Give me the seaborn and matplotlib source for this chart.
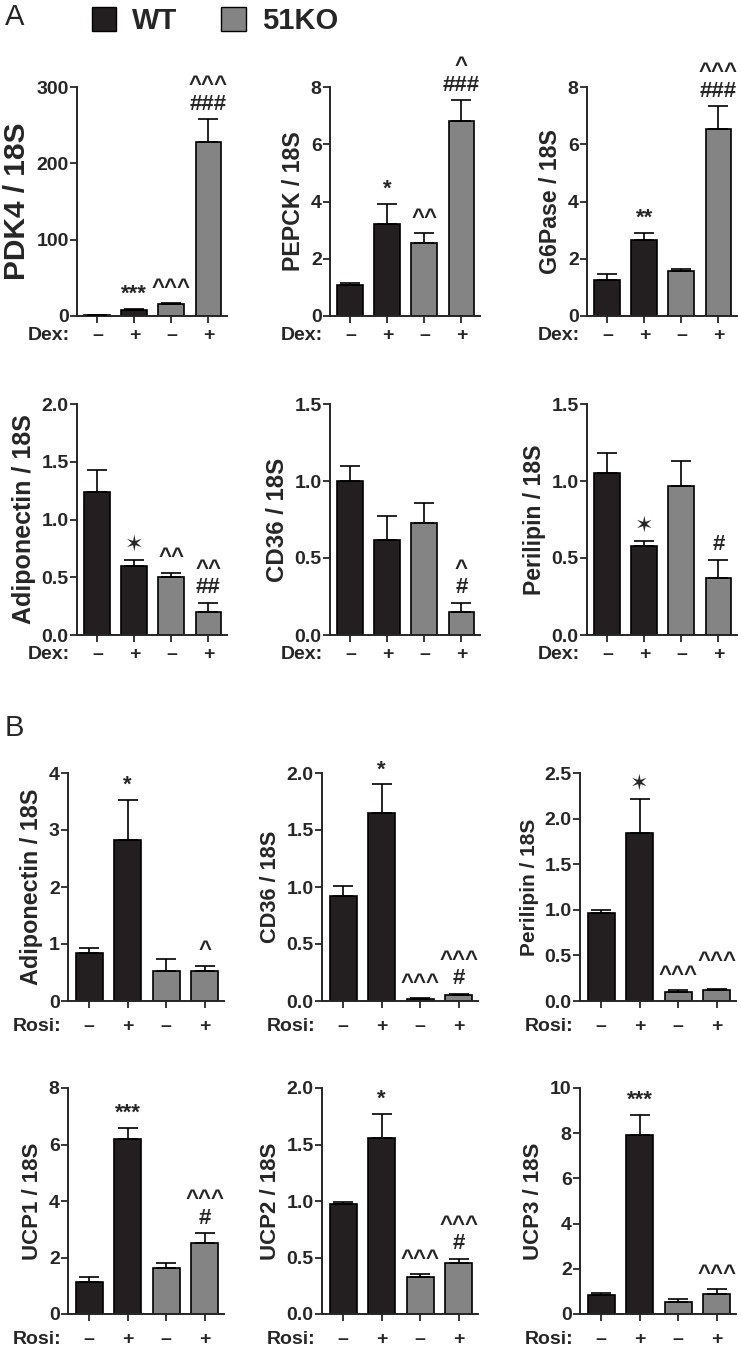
import numpy as np
import pandas as pd
import matplotlib
matplotlib.use('Agg')
import matplotlib.pyplot as plt
from matplotlib.patches import Patch
import seaborn as sns

# bar groups, same order in every panel
groups = ['WT -', 'WT +', '51KO -', '51KO +']
genotype = ['WT', 'WT', '51KO', '51KO']
signs = ['–', '+', '–', '+']
colors = {'WT': '#231f20', '51KO': '#848484'}

# A: Dex treatment
pdk4_mean = [1, 8, 16, 228]
pdk4_sem = [0.5, 1, 1, 30]
pdk4_sig = ['', '***', '^^^', '^^^\n###']

pepck_mean = [1.07, 3.22, 2.56, 6.80]
pepck_sem = [0.08, 0.70, 0.33, 0.74]
pepck_sig = ['', '*', '^^', '^\n###']

g6pase_mean = [1.26, 2.67, 1.58, 6.53]
g6pase_sem = [0.21, 0.24, 0.07, 0.80]
g6pase_sig = ['', '**', '', '^^^\n###']

adipoA_mean = [1.24, 0.60, 0.50, 0.20]
adipoA_sem = [0.19, 0.05, 0.04, 0.08]
adipoA_sig = ['', '✶', '^^', '^^\n##']

cd36A_mean = [1.00, 0.62, 0.73, 0.15]
cd36A_sem = [0.10, 0.15, 0.13, 0.06]
cd36A_sig = ['', '', '', '^\n#']

perilA_mean = [1.05, 0.58, 0.97, 0.37]
perilA_sem = [0.13, 0.03, 0.16, 0.12]
perilA_sig = ['', '✶', '', '#']

# B: Rosi treatment
adipoB_mean = [0.85, 2.82, 0.53, 0.52]
adipoB_sem = [0.08, 0.71, 0.21, 0.10]
adipoB_sig = ['', '*', '', '^']

cd36B_mean = [0.92, 1.65, 0.02, 0.055]
cd36B_sem = [0.09, 0.25, 0.005, 0.01]
cd36B_sig = ['', '*', '^^^', '^^^\n#']

perilB_mean = [0.97, 1.84, 0.10, 0.12]
perilB_sem = [0.03, 0.38, 0.02, 0.01]
perilB_sig = ['', '✶', '^^^', '^^^']

ucp1_mean = [1.12, 6.18, 1.62, 2.53]
ucp1_sem = [0.18, 0.40, 0.20, 0.33]
ucp1_sig = ['', '***', '', '^^^\n#']

ucp2_mean = [0.97, 1.56, 0.33, 0.45]
ucp2_sem = [0.02, 0.21, 0.02, 0.04]
ucp2_sig = ['', '*', '^^^', '^^^\n#']

ucp3_mean = [0.85, 7.9, 0.55, 0.9]
ucp3_sem = [0.1, 0.9, 0.1, 0.2]
ucp3_sig = ['', '***', '', '^^^']

ticks_300 = [0, 100, 200, 300]
ticks_8 = [0, 2, 4, 6, 8]
ticks_10 = [0, 2, 4, 6, 8, 10]
ticks_4 = [0, 1, 2, 3, 4]
ticks_15 = [0.0, 0.5, 1.0, 1.5]
ticks_20 = [0.0, 0.5, 1.0, 1.5, 2.0]
ticks_25 = [0.0, 0.5, 1.0, 1.5, 2.0, 2.5]

panels = [
    ('PDK4 / 18S', pdk4_mean, pdk4_sem, pdk4_sig, ticks_300, 'Dex'),
    ('PEPCK / 18S', pepck_mean, pepck_sem, pepck_sig, ticks_8, 'Dex'),
    ('G6Pase / 18S', g6pase_mean, g6pase_sem, g6pase_sig, ticks_8, 'Dex'),
    ('Adiponectin / 18S', adipoA_mean, adipoA_sem, adipoA_sig, ticks_20, 'Dex'),
    ('CD36 / 18S', cd36A_mean, cd36A_sem, cd36A_sig, ticks_15, 'Dex'),
    ('Perilipin / 18S', perilA_mean, perilA_sem, perilA_sig, ticks_15, 'Dex'),
    ('Adiponectin / 18S', adipoB_mean, adipoB_sem, adipoB_sig, ticks_4, 'Rosi'),
    ('CD36 / 18S', cd36B_mean, cd36B_sem, cd36B_sig, ticks_20, 'Rosi'),
    ('Perilipin / 18S', perilB_mean, perilB_sem, perilB_sig, ticks_25, 'Rosi'),
    ('UCP1 / 18S', ucp1_mean, ucp1_sem, ucp1_sig, ticks_8, 'Rosi'),
    ('UCP2 / 18S', ucp2_mean, ucp2_sem, ucp2_sig, ticks_20, 'Rosi'),
    ('UCP3 / 18S', ucp3_mean, ucp3_sem, ucp3_sig, ticks_10, 'Rosi'),
]
# y-label font sizes differ a little from panel to panel in the original
label_sizes = [21.5, 16.7, 16.7, 18, 17.3, 16.6, 16.8, 15.7, 15, 16, 16, 16]
# extra lift (points) for a mark that would collide with its neighbour
extra_lift = {(8, 3): 9}

sns.set_style('ticks')
plt.rcParams['font.family'] = ['Liberation Sans', 'DejaVu Sans']
plt.rcParams['font.weight'] = 'bold'
plt.rcParams['axes.labelweight'] = 'bold'

W, H = 742, 1347
fig = plt.figure(figsize=(W / 100, H / 100), dpi=100)

# axes boxes in pixels, measured from the top-left corner
row_bottoms = [316, 635, 1001, 1314]
row_heights = [229, 231, 228, 226]
lefts_A = [77, 330, 587]
lefts_B = [68, 322, 580]

for k, (ylab, mean, sem, sig, yt, treat) in enumerate(panels):
    r, c = divmod(k, 3)
    left = (lefts_A if r < 2 else lefts_B)[c]
    width = 150 if r < 2 else 156
    ax = fig.add_axes([left / W, (H - row_bottoms[r]) / H, width / W, row_heights[r] / H])

    df = pd.DataFrame({'group': groups, 'geno': genotype, 'value': mean})
    sns.barplot(data=df, x='group', y='value', hue='geno', palette=colors,
                dodge=False, width=0.7, edgecolor='black', linewidth=1.2,
                saturation=1, errorbar=None, legend=False, ax=ax)
    ax.errorbar(np.arange(4), mean, yerr=[np.zeros(4), sem], fmt='none',
                ecolor='black', elinewidth=1.2, capsize=7, capthick=1.2, zorder=3)

    for i, s in enumerate(sig):
        if s:
            ax.annotate(s, xy=(i, mean[i] + sem[i]),
                        xytext=(0, 3 + extra_lift.get((k, i), 0)),
                        textcoords='offset points', ha='center', va='bottom',
                        fontsize=16, fontweight='bold', linespacing=0.85)

    ax.set_ylim(yt[0], yt[-1])
    ax.set_yticks(yt)
    ax.set_xlim(-0.55, 3.5)
    ax.set_xticks(range(4))
    ax.set_xticklabels(signs)
    ax.set_xlabel('')
    ax.set_ylabel(ylab, fontsize=label_sizes[k], fontweight='bold', labelpad=4)
    sns.despine(ax=ax)
    for sp in ['left', 'bottom']:
        ax.spines[sp].set_linewidth(1.4)
    pad = 3 if treat == 'Dex' else 7
    ax.tick_params(axis='both', width=1.3, length=5, labelsize=14)
    ax.tick_params(axis='x', pad=pad)
    ax.tick_params(axis='y', pad=1)
    ax.annotate(treat + ':', xy=(0, 0), xycoords='axes fraction',
                xytext=(-5, -(5 + pad)), textcoords='offset points',
                ha='right', va='top', fontsize=14, fontweight='bold')

fig.legend(handles=[Patch(facecolor=colors['WT'], edgecolor='black'),
                    Patch(facecolor=colors['51KO'], edgecolor='black')],
           labels=['WT', '51KO'], loc='center', bbox_to_anchor=(0.2898, 0.9844),
           ncol=2, frameon=False, prop={'weight': 'bold', 'size': 21},
           handlelength=0.85, handleheight=0.85, handletextpad=0.55, columnspacing=1.5)

fig.text(0.006, 0.998, 'A', ha='left', va='top', fontsize=21, fontweight='normal')
fig.text(0.006, 0.470, 'B', ha='left', va='top', fontsize=21, fontweight='normal')

fig.savefig('out.png', dpi=100)
